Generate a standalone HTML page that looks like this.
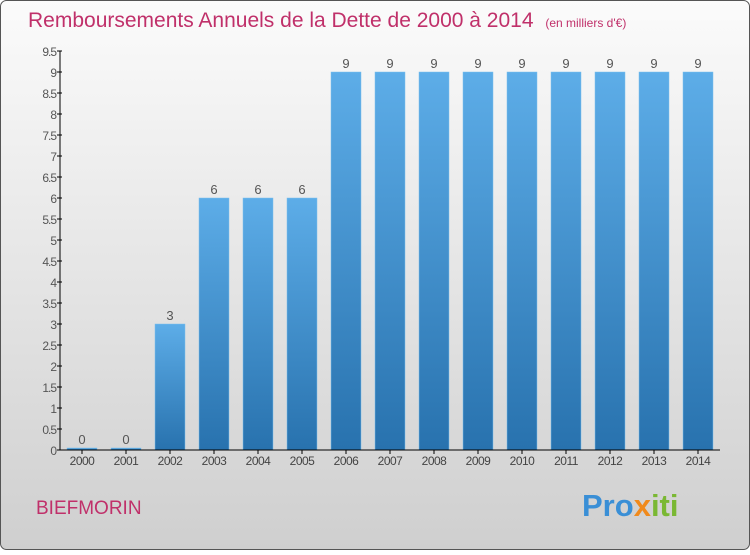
<!DOCTYPE html>
<html><head><meta charset="utf-8"><style>
body{margin:0;width:750px;height:550px;overflow:hidden;font-family:"Liberation Sans",sans-serif}
</style></head><body>
<svg width="750" height="550" xmlns="http://www.w3.org/2000/svg">
<defs>
<linearGradient id="bg" x1="0" y1="0" x2="0" y2="1"><stop offset="0" stop-color="#fbfbfb"/><stop offset="1" stop-color="#cfcfcf"/></linearGradient>
<linearGradient id="bar" x1="0" y1="0" x2="0" y2="1"><stop offset="0" stop-color="#5dade8"/><stop offset="1" stop-color="#2872ae"/></linearGradient>
</defs>
<rect x="0.5" y="0.5" width="749" height="549" rx="6" fill="url(#bg)" stroke="#555"/>
<text x="28" y="27" font-size="21" fill="#c0306a">Remboursements Annuels de la Dette de 2000 à 2014 <tspan font-size="12" dx="6">(en milliers d'€)</tspan></text>
<g id="yaxis"></g>
<g id="bars"></g>
<g id="xaxis"></g>
<text x="36" y="514" font-size="19" fill="#c0306a">BIEFMORIN</text>
<text x="582" y="516" font-size="31" font-weight="bold"><tspan fill="#3a8fd6">Pro</tspan><tspan fill="#f08a1c">x</tspan><tspan fill="#7ab833">iti</tspan></text>
</svg>
<script>
const years=["2000","2001","2002","2003","2004","2005","2006","2007","2008","2009","2010","2011","2012","2013","2014"];
const values=[0,0,3,6,6,6,9,9,9,9,9,9,9,9,9];
const yTicks=[0,0.5,1,1.5,2,2.5,3,3.5,4,4.5,5,5.5,6,6.5,7,7.5,8,8.5,9,9.5];
const NS="http://www.w3.org/2000/svg";
const y0=450,pxPer=42,x0=82,step=44,bw=30;
const ys=v=>y0-v*pxPer, xs=i=>x0+i*step;
function mk(t,a,p,txt){const e=document.createElementNS(NS,t);for(const k in a)e.setAttribute(k,a[k]);if(txt!==undefined)e.textContent=txt;p.appendChild(e);return e;}
const ya=document.getElementById('yaxis'),bg=document.getElementById('bars'),xa=document.getElementById('xaxis');
const al=mk('line',{x1:60,y1:ys(9.5),x2:60,y2:y0,stroke:'#000'},ya);


yTicks.forEach(t=>{
 const l=mk('line',{x1:57,y1:ys(t),x2:62,y2:ys(t),stroke:'#000'},ya);
 
 
 const s=mk('text',{x:56,y:ys(t)+5,'font-size':12,fill:'#555','text-anchor':'end','letter-spacing':'-1'},ya,String(t));
 
 
});
const bl=mk('line',{x1:60,y1:y0,x2:720,y2:y0,stroke:'#000'},xa);


years.forEach((yr,i)=>{
 const v=values[i],h=Math.max(v*pxPer,2);
 const r=mk('rect',{x:xs(i)-bw/2,y:y0-h,width:bw,height:h,fill:'url(#bar)',stroke:'#7cc0ee','stroke-width':0.5},bg);
 
 
 const vl=mk('text',{x:xs(i),y:y0-h-4,'font-size':13,fill:'#555','text-anchor':'middle'},bg,String(v));
 
 
 const tk=mk('line',{x1:xs(i),y1:y0,x2:xs(i),y2:y0+4,stroke:'#000'},xa);
 
 
 const xl=mk('text',{x:xs(i),y:y0+15,'font-size':12,fill:'#444','text-anchor':'middle','letter-spacing':'-0.5'},xa,yr);
 
 
});
</script>
</body></html>
